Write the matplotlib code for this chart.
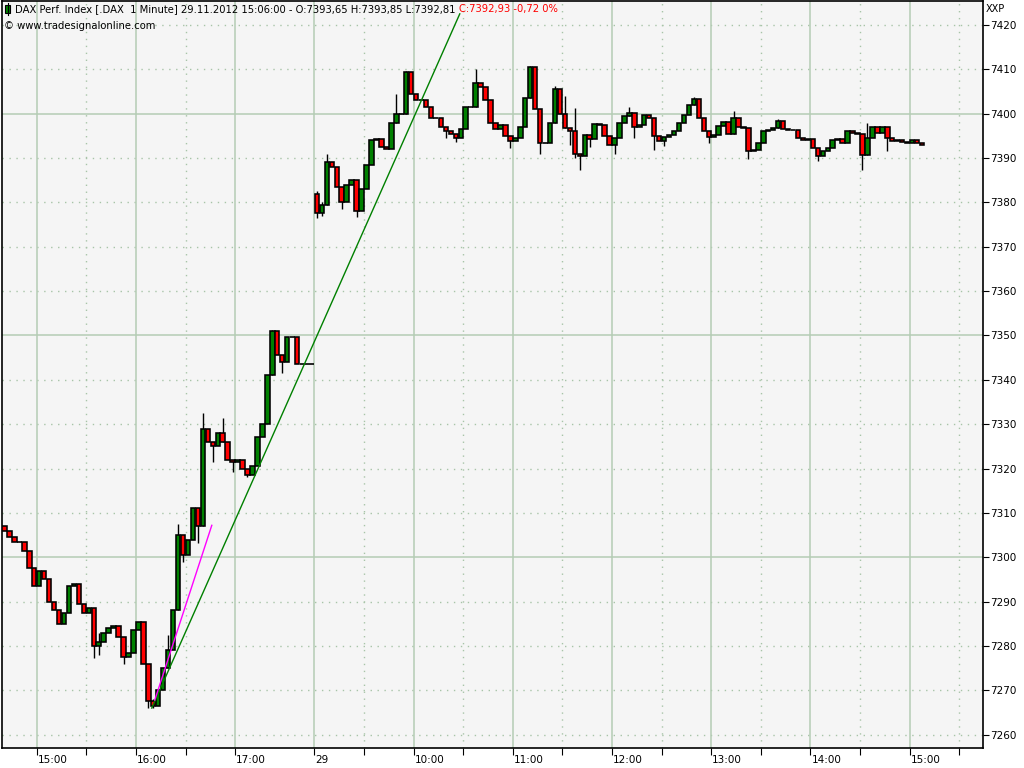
import matplotlib
matplotlib.use("Agg")
import matplotlib.pyplot as plt
from matplotlib.patches import Rectangle
from matplotlib.lines import Line2D

# 3-minute bars
bar_minutes = 3
day1_start = (14, 39)
day2_start = (9, 0)

day1_open = 7307.0
day1_close = [7306, 7304.5, 7303.5, 7303.5, 7301.5, 7297.5, 7293.5, 7297, 7295, 7290,
              7288, 7285, 7287.5, 7293.5, 7294, 7289.5, 7287.5, 7288.5, 7280, 7281,
              7283, 7284, 7284.5, 7282, 7277.5, 7278.5, 7283.5, 7285.5, 7276, 7267.5,
              7266.5, 7270, 7275, 7279, 7288, 7305, 7300.5, 7304, 7311, 7307,
              7329, 7326, 7325, 7328, 7326, 7322, 7321.5, 7322, 7320, 7318.5,
              7320.5, 7327, 7330, 7341, 7351, 7345.5, 7344, 7349.6, 7349.6, 7343.5,
              7343.5, 7343.5, 7343.5]
# (bar, low, high) for the visible wicks
day1_wicks = [(18, 7277.4, 7281), (19, 7278, 7283), (24, 7276, 7282), (29, 7266, 7276),
              (30, 7266, 7268), (33, 7275, 7282.5), (35, 7288, 7307.5), (36, 7299, 7305),
              (39, 7303.3, 7311), (40, 7307, 7332.5), (42, 7321.4, 7326), (44, 7326, 7331.5),
              (46, 7319.2, 7322), (49, 7318, 7320), (54, 7341, 7351.3), (56, 7341.5, 7345.5)]

day2_open = 7382.0
day2_close = [7377.5, 7379.5, 7389, 7388, 7383.5, 7380, 7384, 7385, 7378, 7383,
              7388.5, 7394, 7394.4, 7392.5, 7392, 7398, 7400, 7400, 7409.5, 7404.5,
              7403, 7403, 7401.5, 7399, 7399, 7397, 7396, 7395.5, 7394.6, 7396.5,
              7401.4, 7401.5, 7407, 7406, 7403, 7398, 7396.5, 7397.5, 7395, 7393.8,
              7394.5, 7397, 7403.5, 7410.5, 7401, 7393.5, 7393.5, 7398, 7405.5, 7400,
              7396.8, 7396, 7391, 7390.5, 7395.2, 7394.2, 7397.6, 7397.5, 7395, 7393,
              7394.5, 7398, 7399.5, 7400.2, 7397, 7397.5, 7399.6, 7399, 7395, 7393.8,
              7394.8, 7395.3, 7396, 7398, 7399.8, 7402, 7403.4, 7399, 7396, 7394.8,
              7395.2, 7397.2, 7398.1, 7395.5, 7399, 7397, 7396.8, 7391.5, 7391.8, 7393.3,
              7396, 7396.3, 7396.7, 7398.3, 7396.5, 7396.4, 7396.3, 7394.5, 7394, 7394.4,
              7392.2, 7390.4, 7391.5, 7392.2, 7394, 7394.4, 7393.3, 7396, 7395.6, 7395.5,
              7390.7, 7394.5, 7397, 7395.6, 7397, 7394.5, 7393.8, 7394, 7393.6, 7393.3,
              7394, 7393.5, 7392.93]
day2_wicks = [(0, 7376.5, 7382.5), (1, 7377, 7380), (2, 7379.5, 7390.8), (5, 7378.5, 7383.5),
              (8, 7376.8, 7385), (16, 7398, 7404.4), (18, 7400, 7409.6), (26, 7394.5, 7397),
              (28, 7393.6, 7395.5), (32, 7401.5, 7410), (39, 7392.3, 7395), (43, 7403.5, 7410.7),
              (45, 7390.8, 7401), (48, 7398, 7406.3), (50, 7396.8, 7404), (51, 7393, 7396.8),
              (52, 7390, 7401.3), (53, 7387.4, 7391), (55, 7392.5, 7395.2), (60, 7390.8, 7394.5),
              (63, 7399.5, 7401.5), (64, 7394.5, 7400.2), (68, 7391.8, 7399), (70, 7392.6, 7394.8),
              (76, 7402, 7403.8), (79, 7393.3, 7396), (84, 7395.5, 7400.5), (87, 7389.8, 7396.8),
              (93, 7396.7, 7398.8), (101, 7389.3, 7392.2), (110, 7387.4, 7395.5),
              (111, 7390.7, 7397.8), (115, 7391.5, 7397)]

# hand-drawn trend lines (bar position, price)
trend_green = [(30.2, 7266.0), (92.3, 7422.5)]
trend_magenta = [(30.8, 7267.8), (42.3, 7307.2)]

day1_hours = ["15:00", "16:00", "17:00"]
day1_half = ["15:30", "16:30"]
day2_hours = ["29", "10:00", "11:00", "12:00", "13:00", "14:00", "15:00"]
day2_half = ["09:30", "10:30", "11:30", "12:30", "13:30", "14:30", "15:30"]

header_black = "DAX Perf. Index [.DAX  1 Minute] 29.11.2012 15:06:00 - O:7393,65 H:7393,85 L:7392,81 "
header_red = "C:7392,93 -0,72 0%"
copyright_text = "\u00a9 www.tradesignalonline.com"
unit_text = "XXP"


def pos(t, day):
    h, m = [int(p) for p in t.split(":")] if ":" in t else (9, 0)
    if day == 1:
        return ((h * 60 + m) - (day1_start[0] * 60 + day1_start[1])) / bar_minutes
    return len(day1_close) + ((h * 60 + m) - (day2_start[0] * 60 + day2_start[1])) / bar_minutes


def candles(ax, start, first_open, closes, wicks):
    xs, opens = [], []
    prev = first_open
    for i, c in enumerate(closes):
        xs.append(start + i + 0.5)
        opens.append(prev)
        prev = c
    for i, lo, hi in wicks:
        ax.vlines(start + i + 0.5, lo, hi, color="black", lw=1.0, zorder=3)
    for x, o, c in zip(xs, opens, closes):
        if c == o:
            ax.hlines(c, x - 0.5, x + 0.5, color="black", lw=1.2, zorder=4)
            continue
        col = "#008000" if c > o else "#ff0000"
        ax.add_patch(Rectangle((x - 0.45, min(o, c)), 0.9, abs(c - o), facecolor=col,
                               edgecolor="black", lw=1.15, zorder=4))


fig = plt.figure(figsize=(10.24, 7.68), dpi=100)
fig.patch.set_facecolor("white")
ax = fig.add_axes([2 / 1024, 20 / 768, 981 / 1024, 747 / 768])
ax.set_facecolor("#f5f5f5")
ax.set_xlim(0, 197.8)
ax.set_ylim(7257.0, 7425.4)

solid = "#b4ccb4"
for v in range(7260, 7430, 10):
    if v % 50 == 0:
        ax.axhline(v, color=solid, lw=1.1, zorder=1)
    else:
        ax.axhline(v, color="#a8c4a8", lw=1, ls=(0, (1, 4)), zorder=1)

hour_pos = [pos(t, 1) for t in day1_hours] + [pos(t if t != "29" else "09:00", 2) for t in day2_hours]
half_pos = [pos(t, 1) for t in day1_half] + [pos(t, 2) for t in day2_half]
for x in hour_pos:
    ax.axvline(x, color=solid, lw=1.1, zorder=1)
for x in half_pos:
    ax.axvline(x, color="#a8c4a8", lw=1, ls=(0, (1, 4)), zorder=1)

candles(ax, 0, day1_open, day1_close, day1_wicks)
candles(ax, len(day1_close), day2_open, day2_close, day2_wicks)

gx, gy = zip(*trend_green)
ax.plot(gx, gy, color="#008000", lw=1, zorder=5)
mx, my = zip(*trend_magenta)
ax.plot(mx, my, color="#ff00ff", lw=1, zorder=5)

for s in ax.spines.values():
    s.set_color("black")
    s.set_linewidth(1.2)

ax.yaxis.tick_right()
ax.set_yticks(range(7260, 7430, 10))
ax.tick_params(axis="y", length=4, width=0.8, pad=1, labelsize=7.5, colors="black")
ax.set_xticks(hour_pos + half_pos)
ax.set_xticklabels([])
ax.tick_params(axis="x", length=5, width=0.8)

labels = day1_hours + day2_hours
for x, lab in zip(hour_pos, labels):
    ax.annotate(lab, (x, 0), xycoords=("data", "axes fraction"), xytext=(1, -12),
                textcoords="offset pixels", ha="left", va="center", fontsize=7.5)

fig.text(986 / 1024, 1 - 9 / 768, unit_text, fontsize=7, va="center", ha="left")

# small candle icon in the header
fig.add_artist(Line2D([7.5 / 1024] * 2, [1 - 3 / 768, 1 - 15 / 768], color="black", lw=0.8))
fig.add_artist(Rectangle((5 / 1024, 1 - 13 / 768), 5 / 1024, 8 / 768, facecolor="#008000",
                         edgecolor="black", lw=0.8))
t1 = fig.text(15 / 1024, 1 - 9 / 768, header_black, fontsize=7.2, va="center", ha="left")
fig.canvas.draw()
bb = t1.get_window_extent()
fig.text(bb.x1 / 1024, 1 - 9 / 768, header_red, fontsize=7.2, va="center", ha="left", color="#ff0000")
fig.text(4 / 1024, 1 - 26 / 768, copyright_text, fontsize=7.2, va="center", ha="left")

fig.savefig("out.png", dpi=100)
